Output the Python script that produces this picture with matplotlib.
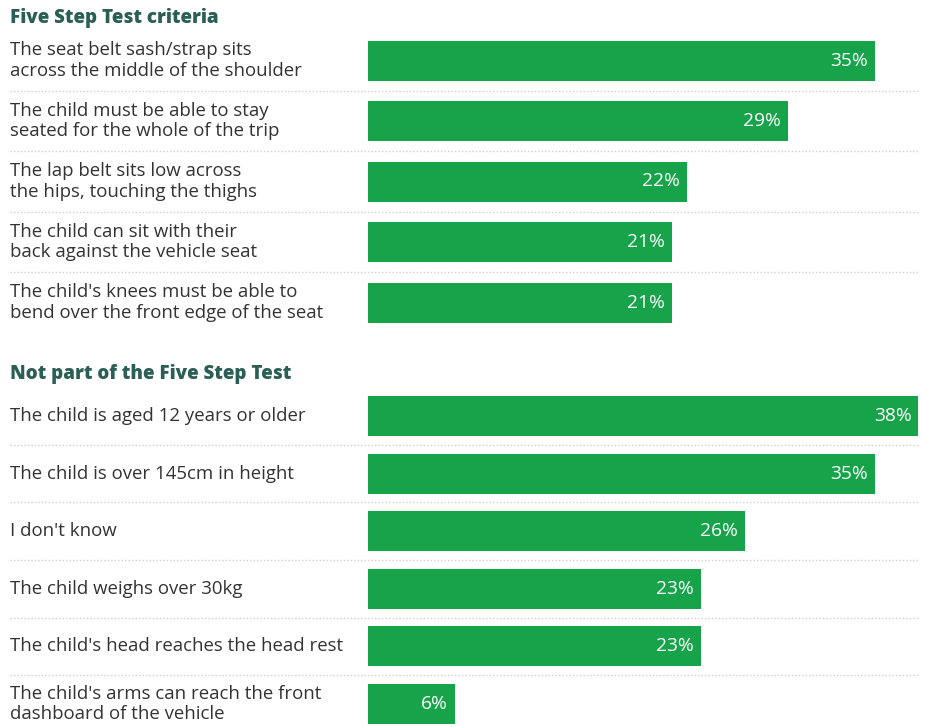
import matplotlib.pyplot as plt
import matplotlib.transforms as mtransforms

plt.rcParams['font.family'] = ['Open Sans', 'DejaVu Sans']

# data
section1_title = 'Five Step Test criteria'
section1_labels = ['The seat belt sash/strap sits\nacross the middle of the shoulder',
                   'The child must be able to stay\nseated for the whole of the trip',
                   'The lap belt sits low across\nthe hips, touching the thighs',
                   'The child can sit with their\nback against the vehicle seat',
                   "The child's knees must be able to\nbend over the front edge of the seat"]
section1_values = [35, 29, 22, 21, 21]

section2_title = 'Not part of the Five Step Test'
section2_labels = ['The child is aged 12 years or older',
                   'The child is over 145cm in height',
                   "I don't know",
                   'The child weighs over 30kg',
                   "The child's head reaches the head rest",
                   "The child's arms can reach the front\ndashboard of the vehicle"]
section2_values = [38, 35, 26, 23, 23, 6]

W, H = 925, 727
fig = plt.figure(figsize=(W / 100, H / 100), dpi=100)
ax = fig.add_axes([0, 0, 1, 1])

# layout (pixels)
x0 = 368
px_per = (875 - x0) / 35.0
ax.set_xlim(-x0 / px_per, (W - x0) / px_per)
ax.set_ylim(H, 0)
ax.axis('off')

green = '#16a34a'
title_col = '#2b5f56'
text_col = '#333333'
trans = mtransforms.blended_transform_factory(fig.transFigure, ax.transData)

def draw_section(title, title_y, labels, values, y_first, step):
    ys = [y_first + i * step for i in range(len(values))]
    ax.text(10 / W, title_y, title, transform=trans, fontsize=13.5,
            fontweight=800, color=title_col, va='center', ha='left')
    ax.barh(ys, values, height=40, left=0, color=green)
    for i, (y, lab, v) in enumerate(zip(ys, labels, values)):
        ax.text(10 / W, y, lab, transform=trans, fontsize=13.4, color=text_col,
                va='center', ha='left', linespacing=1.2)
        ax.text(v - 7 / px_per, y, f'{v}%', fontsize=13.8, color='white',
                va='center', ha='right')
        if i < len(values) - 1:
            sy = y + step / 2
            ax.plot([10 / W, 918 / W], [sy, sy], transform=trans,
                    color='#d0d0d0', lw=1, ls=(0, (1, 1.5)))

draw_section(section1_title, 18, section1_labels, section1_values, 60.5, 60.5)
draw_section(section2_title, 374, section2_labels, section2_values, 416, 57.6)

fig.savefig('out.png', dpi=100)
